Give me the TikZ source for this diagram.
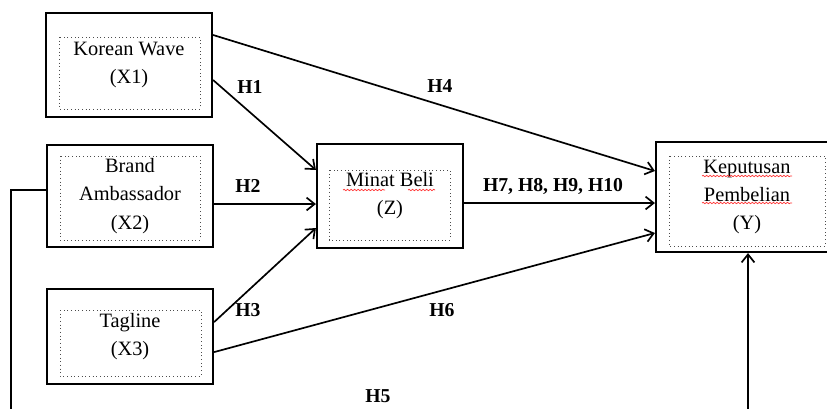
\documentclass[tikz,border=0pt]{standalone}
\usepackage{fontspec}
\setmainfont{Liberation Serif}
\usepackage{tikz}
\usetikzlibrary{arrows.meta, positioning, calc, decorations.pathmorphing}

\tikzset{
    varbox/.style={draw, line width=1.5pt, align=center, inner sep=0pt,
        font=\fontsize{14.5}{20}\selectfont},
    inbox/.style={draw=black!70, dotted, line width=0.6pt},
    link/.style={-{Straight Barb[length=2mm, width=3.2mm]}, line width=1.2pt},
    hyp/.style={font=\fontsize{14}{16}\selectfont\bfseries},
    wavy/.style={red!80, line width=0.5pt, decorate,
        decoration={snake, amplitude=0.5pt, segment length=2.5pt}}
}

\begin{document}
\begin{tikzpicture}[x=0.025cm, y=-0.025cm]
    \clip (0,0) rectangle (827,408);
    % variables
    \node[varbox, minimum width=4.15cm, minimum height=2.6cm] (kw) at (129,65) {Korean Wave\\(X1)};
    \node[varbox, minimum width=4.15cm, minimum height=2.55cm] (ba) at (130,196) {Brand\\Ambassador\\(X2)};
    \node[varbox, minimum width=4.15cm, minimum height=2.375cm] (tag) at (130,336.5) {Tagline\\(X3)};
    \node[varbox, minimum width=3.65cm, minimum height=2.6cm] (minat) at (390,196) {Minat Beli\\(Z)};
    \node[varbox, minimum width=4.55cm, minimum height=2.75cm] (kep) at (747,197) {Keputusan\\Pembelian\\(Y)};
    % dotted frames
    \draw[inbox] (59,37) rectangle (200,109);
    \draw[inbox] (60,156) rectangle (200,240);
    \draw[inbox] (60,310) rectangle (201,376);
    \draw[inbox] (329,170) rectangle (450,240);
    \draw[inbox] (669,156) rectangle (825,246);
    % spelling marks
    \draw[wavy] (343,190) -- (385,190);
    \draw[wavy] (408,190) -- (435,190);
    \draw[wavy] (702,176) -- (792,176);
    \draw[wavy] (702,203) -- (792,203);
    % paths
    \draw[link] ([yshift=-0.375cm]kw.east) -- ([yshift=0.65cm]minat.west);
    \draw[link] ([yshift=0.75cm]kw.east) -- ([yshift=0.65cm]kep.west);
    \draw[link] ([yshift=-0.2cm]ba.east) -- ([yshift=-0.2cm]minat.west);
    \draw[link] ([yshift=0.36cm]tag.east) -- ([yshift=-0.8cm]minat.west);
    \draw[link] ([yshift=-0.39cm]tag.east) -- ([yshift=-0.9cm]kep.west);
    \draw[link] ([yshift=-0.175cm]minat.east) -- ([yshift=-0.15cm]kep.west);
    \coordinate (low) at (400,440);
    \draw[link] ([yshift=0.15cm]ba.west) -- ++(-0.875cm,0) |- (low) -| ([xshift=0.025cm]kep.south);
    % hypotheses
    \node[hyp] (h1) at (250,87) {H1};
    \node[hyp] (h2) at (248,186) {H2};
    \node[hyp] (h3) at (248,310) {H3};
    \node[hyp] (h4) at (440,86) {H4};
    \node[hyp] (h5) at (378,396) {H5};
    \node[hyp] (h6) at (442,310) {H6};
    \node[hyp] (h7) at (553,186) {H7, H8, H9, H10};
\end{tikzpicture}
\end{document}
